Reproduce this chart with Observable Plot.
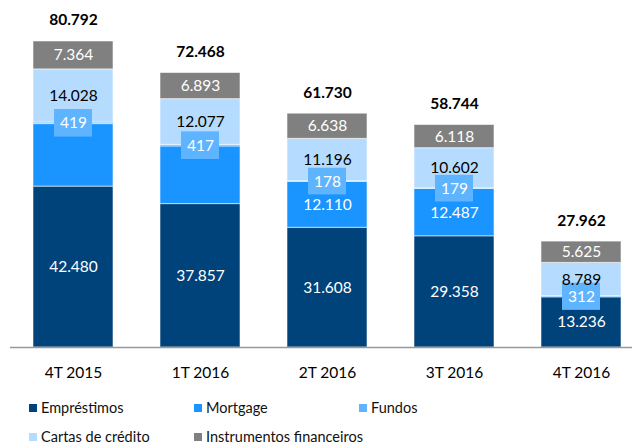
<!DOCTYPE html>
<html><head><meta charset="utf-8">
<script src="https://cdn.jsdelivr.net/npm/d3@7"></script>
<script src="https://cdn.jsdelivr.net/npm/@observablehq/plot@0.6"></script>
<style>
body{margin:0;background:#fff;font-family:Lato,"Noto Sans",sans-serif;overflow:hidden;}
#chart svg{display:block;}
#legend{display:flex;flex-wrap:wrap;width:520px;padding-left:29px;padding-top:3px;}
.item{width:165px;height:29px;display:flex;align-items:center;font-size:14.5px;color:#111;white-space:nowrap;}
.sw{width:8px;height:8px;margin-right:4px;flex:none;}
</style></head><body>
<div id="chart"></div>
<div id="legend"></div>
<script>
const periods = ["4T 2015","1T 2016","2T 2016","3T 2016","4T 2016"];
const seriesNames = ["Empréstimos","Mortgage","Fundos","Cartas de crédito","Instrumentos financeiros"];
const emprestimos = [42480,37857,31608,29358,13236];
const mortgage = [16501,15224,12110,12487,0];
const mortgageLabelShown = [false,false,true,true,false];
const fundos = [419,417,178,179,312];
const cartas = [14028,12077,11196,10602,8789];
const instrumentos = [7364,6893,6638,6118,5625];
const totals = [80792,72468,61730,58744,27962];
const colors = ["#00427A","#1A94FF","#5FB4FF","#B5DCFF","#808080"];
const labelColors = ["white","white","white","black","white"];

const fmt = d3.formatLocale({decimal:",",thousands:".",grouping:[3],currency:["",""]}).format(",d");
const seriesValues = [emprestimos, mortgage, fundos, cartas, instrumentos];

const rows = [];
periods.forEach((p,i)=>{
  seriesNames.forEach((s,j)=>{
    const v = seriesValues[j][i];
    const show = j===1 ? mortgageLabelShown[i] : v>0;
    rows.push({period:p, series:s, value:v, label: show ? fmt(v) : null, labelColor: labelColors[j]});
  });
});
const totalRows = periods.map((p,i)=>({period:p, total:totals[i], label:fmt(totals[i])}));

const stackOpts = {x:"period", y:"value", z:"series", order:seriesNames};

const chart = Plot.plot({
  width:632, height:390,
  marginLeft:10, marginRight:0, marginTop:41, marginBottom:43,
  style:{fontFamily:"Lato, 'Noto Sans', sans-serif", fontSize:"15px", background:"white"},
  x:{domain:periods, range:[10,645], paddingInner:0.37, paddingOuter:0.185, label:null},
  y:{domain:[0,80792], axis:null},
  color:{domain:seriesNames, range:colors},
  marks:[
    Plot.barY(rows, Plot.stackY({...stackOpts, fill:"series", stroke:"white", strokeOpacity:0.55, strokeWidth:1})),
    Plot.barY(rows, Plot.filter(d=>d.series==="Fundos", Plot.stackY({...stackOpts, fill:"series", insetTop:-13, insetBottom:-13, insetLeft:21, insetRight:21}))),
    Plot.text(rows, Plot.filter(d=>d.label, Plot.stackY({...stackOpts, text:"label", fill:"labelColor", fontSize:15.5}))),
    Plot.text(totalRows, {x:"period", y:"total", text:"label", dy:-21, fontWeight:"bold", fontSize:15.5, fill:"#000"}),
    Plot.ruleY([0], {stroke:"#999", strokeWidth:1.5}),
    Plot.axisX({tickSize:0, tickPadding:19, fontSize:15.5, fill:"#000", label:null})
  ]
});
document.getElementById("chart").appendChild(chart);

const legend = document.getElementById("legend");
seriesNames.forEach((s,j)=>{
  const it = document.createElement("div"); it.className="item";
  const sw = document.createElement("span"); sw.className="sw"; sw.style.background=colors[j];
  const tx = document.createElement("span"); tx.textContent=s;
  it.appendChild(sw); it.appendChild(tx); legend.appendChild(it);
});
</script>
</body></html>
